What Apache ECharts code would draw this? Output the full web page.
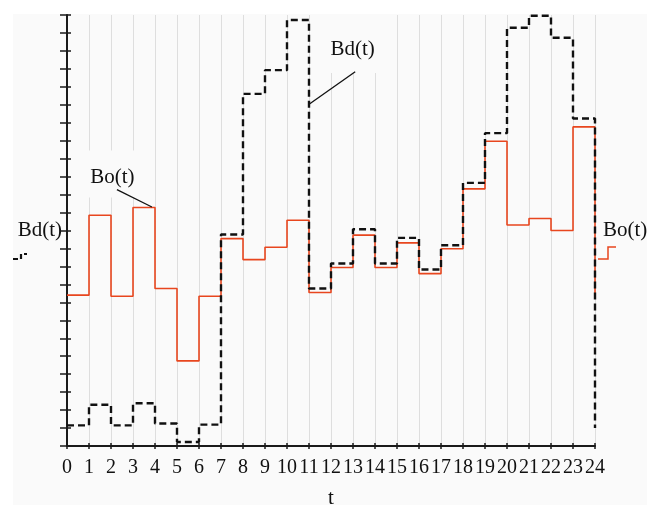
<!DOCTYPE html>
<html>
<head>
<meta charset="utf-8">
<script src="https://cdn.jsdelivr.net/npm/echarts@6/dist/echarts.min.js"></script>
<style>
html,body{margin:0;padding:0;background:#ffffff;}
#main{width:655px;height:505px;}
</style>
</head>
<body>
<div id="main"></div>
<script>
// Tick labels for the time axis
var hours = ['0','1','2','3','4','5','6','7','8','9','10','11','12','13','14','15','16','17','18','19','20','21','22','23','24'];
// Bo(t): value held during hour i (last entry = value at t=24)
var boValues = [8.40, 12.85, 8.34, 13.28, 8.77, 4.74, 8.34, 11.55, 10.38, 11.07, 12.57, 8.55, 9.94, 11.74, 9.94, 11.31, 9.60, 10.98, 14.32, 16.97, 12.31, 12.67, 12.00, 17.77, 8.50];
// Bd(t): value held during hour i (last entry = value at t=24)
var bdValues = [1.15, 2.30, 1.15, 2.38, 1.25, 0.22, 1.19, 11.78, 19.61, 20.93, 23.72, 8.77, 10.16, 12.07, 10.16, 11.59, 9.83, 11.18, 14.65, 17.42, 23.29, 23.96, 22.73, 18.24, 1.00];
// annotation anchors (data coords)
var bdLabelAt = [12.98, 22.38];
var boLabelAt = [2.06, 15.14];
var bdLeader = [[11.02, 19.04], [13.1, 20.84]];
var boLeader = [[2.27, 14.28], [3.86, 13.31]];

var FONT = '"Liberation Serif", "DejaVu Serif", serif';
var BG = '#fafafa';
var AX = '#1a1a1a';

function toPairs(vals){ return vals.map(function(v,i){ return [i, v]; }); }

var chart = echarts.init(document.getElementById('main'), null, {renderer:'canvas'});
var option = {
  animation: false,
  backgroundColor: '#ffffff',
  grid: { left: 67, right: 60, top: 15, bottom: 59, containLabel: false, outerBoundsMode: 'none' },
  graphic: [
    { type: 'rect', z: -100, silent: true, shape: { x: 13, y: 14, width: 634, height: 491 }, style: { fill: BG } },
    { type: 'polyline', z: 10, shape: { points: [[13,259],[21,259],[21,254],[27,254]] }, style: { stroke: '#111', lineWidth: 2.2, lineDash: [5,3], fill: null } },
    { type: 'polyline', z: 10, shape: { points: [[598,259],[608,259],[608,247],[616,247]] }, style: { stroke: '#e8461e', lineWidth: 1.5, fill: null } }
  ],
  xAxis: [
    {
      type: 'value', min: 0, max: 24, interval: 1, position: 'bottom',
      name: 't', nameLocation: 'middle', nameGap: 42,
      nameTextStyle: { fontFamily: FONT, fontSize: 21, color: '#111' },
      axisLine: { show: true, onZero: false, lineStyle: { color: AX, width: 2 } },
      axisTick: { show: true, inside: false, length: 3, lineStyle: { color: AX, width: 1.5 } },
      axisLabel: { show: true, margin: 12, fontFamily: FONT, fontSize: 20, color: '#111',
        formatter: function(v){ return hours[Math.round(v)]; } },
      splitLine: { show: true, lineStyle: { color: '#dedede', width: 1 } }
    },
    {
      type: 'value', min: 0, max: 24, interval: 1, position: 'bottom',
      axisLine: { show: false },
      axisTick: { show: true, inside: true, length: 3, lineStyle: { color: AX, width: 1.5 } },
      axisLabel: { show: false },
      splitLine: { show: false }
    }
  ],
  yAxis: [
    {
      type: 'value', min: 0, max: 24, interval: 1, position: 'left',
      name: 'Bd(t)', nameLocation: 'middle', nameRotate: 0, nameGap: 5,
      nameTextStyle: { fontFamily: FONT, fontSize: 21, color: '#111', padding: [26,0,0,0] },
      axisLine: { show: true, onZero: false, lineStyle: { color: AX, width: 2 } },
      axisTick: { show: true, inside: false, length: 4, lineStyle: { color: AX, width: 1.5 } },
      axisLabel: { show: false },
      splitLine: { show: false }
    },
    {
      type: 'value', min: 0, max: 24, interval: 1, position: 'left',
      axisLine: { show: false },
      axisTick: { show: true, inside: true, length: 4, lineStyle: { color: AX, width: 1.5 } },
      axisLabel: { show: false },
      splitLine: { show: false }
    },
    {
      type: 'value', min: 0, max: 24, interval: 1, position: 'right',
      name: 'Bo(t)', nameLocation: 'middle', nameRotate: 0, nameGap: 8,
      nameTextStyle: { fontFamily: FONT, fontSize: 21, color: '#111', padding: [26,0,0,0] },
      axisLine: { show: false },
      axisTick: { show: true, inside: true, length: 7, lineStyle: { color: AX, width: 1.5 } },
      axisLabel: { show: false },
      splitLine: { show: false }
    }
  ],
  series: [
    {
      name: 'Bo(t)', type: 'line', step: 'end', z: 3,
      xAxisIndex: 0, yAxisIndex: 0,
      data: toPairs(boValues),
      symbol: 'none',
      lineStyle: { color: '#e8461e', width: 1.6 },
      markPoint: {
        z: 2,
        symbol: 'rect', symbolSize: [56, 47], silent: true,
        itemStyle: { color: BG },
        label: { show: true, position: 'inside', offset: [0, 3], fontFamily: FONT, fontSize: 21, color: '#111', formatter: 'Bo(t)' },
        data: [ { coord: boLabelAt } ]
      },
      markLine: {
        z: 6,
        symbol: 'none', silent: true, label: { show: false },
        lineStyle: { color: '#111', type: 'solid', width: 1.3 },
        data: [ [ { coord: boLeader[0] }, { coord: boLeader[1] } ] ]
      }
    },
    {
      name: 'Bd(t)', type: 'line', step: 'end', z: 4,
      xAxisIndex: 0, yAxisIndex: 0,
      data: toPairs(bdValues),
      symbol: 'none',
      lineStyle: { color: '#111111', width: 2.4, type: [7, 4] },
      markPoint: {
        z: 2,
        symbol: 'rect', symbolSize: [56, 58], silent: true,
        itemStyle: { color: BG },
        label: { show: true, position: 'inside', offset: [0, 5], fontFamily: FONT, fontSize: 21, color: '#111', formatter: 'Bd(t)' },
        data: [ { coord: bdLabelAt } ]
      },
      markLine: {
        z: 6,
        symbol: 'none', silent: true, label: { show: false },
        lineStyle: { color: '#111', type: 'solid', width: 1.3 },
        data: [ [ { coord: bdLeader[0] }, { coord: bdLeader[1] } ] ]
      }
    }
  ]
};
chart.setOption(option);
</script>
</body>
</html>
